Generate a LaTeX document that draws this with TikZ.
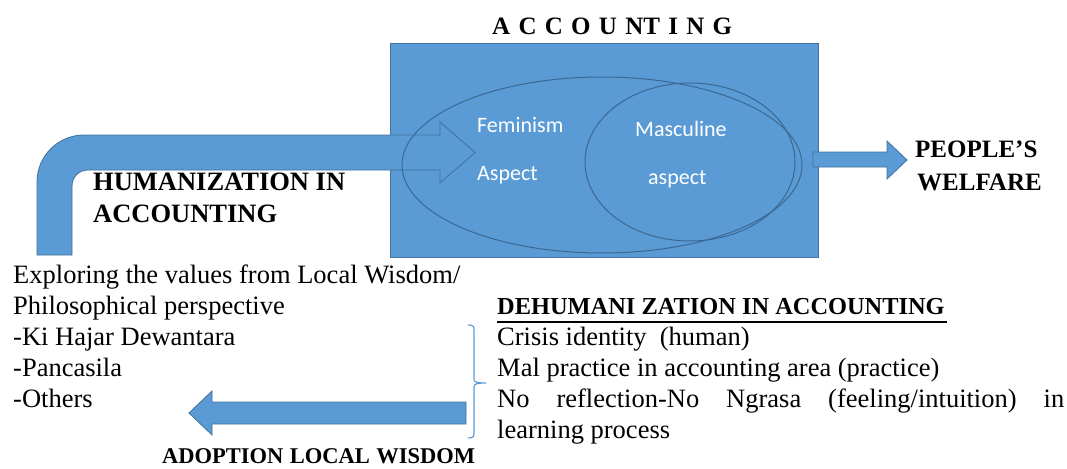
\documentclass[tikz,border=0pt]{standalone}
\usepackage{fontspec}
\setmainfont{Liberation Serif}
\newfontfamily\calib{Carlito}
\usetikzlibrary{calc}
\definecolor{boxblue}{HTML}{5B9BD5}
\definecolor{edgeblue}{HTML}{41719C}
\definecolor{ellblue}{HTML}{3B6790}
\begin{document}
\begin{tikzpicture}[x=1pt,y=-1pt,
  txt/.style={inner sep=0pt, anchor=base west, font=\fontsize{26.5}{31}\selectfont},
  hdr/.style={inner sep=0pt, anchor=base west, font=\fontsize{26.5}{31}\selectfont\bfseries},
  wtxt/.style={inner sep=0pt, anchor=base west, text=white, font=\calib\fontsize{22}{26}\selectfont},
  blockarrow/.style={fill=boxblue, draw=edgeblue, line width=0.8pt, line join=miter},
  ell/.style={draw=ellblue, line width=1pt},
  brace/.style={draw=boxblue, line width=1.2pt}]
\clip (0,0) rectangle (1067,468);
% main box
\filldraw[fill=boxblue, draw=edgeblue, line width=1pt] (390,44) rectangle (818,257);
% curved arrow
\path[blockarrow] (37,255) -- (37,182) .. controls (37,156) and (58,135) .. (84,135)
  -- (440,135) -- (440,122) -- (475,152.5) -- (440,183) -- (440,170) -- (88,170)
  .. controls (79,170) and (72,177) .. (72,186) -- (72,255) -- cycle;
% ellipses
\draw[ell] (602,165) ellipse [x radius=200, y radius=88];
\draw[ell] (690,162) ellipse [x radius=105, y radius=79];
% right arrow
\path[blockarrow] (813,152) -- (887,152) -- (887,141) -- (907,160) -- (887,179) -- (887,167) -- (813,167) -- cycle;
% left arrow
\path[blockarrow] (466,402) -- (212,402) -- (212,391) -- (189,413) -- (212,435) -- (212,424) -- (466,424) -- cycle;
% brace
\draw[brace] (468,325) .. controls (473,325) and (474,326) .. (474,330) -- (474,379)
  .. controls (474,382) and (476,383) .. (486,383)
  .. controls (476,383) and (474,384) .. (474,387) -- (474,433)
  .. controls (474,437) and (473,438) .. (468,438);
% texts
\node[hdr, font=\fontsize{25}{30}\selectfont\bfseries] (title) at (492,35) {\makebox[240pt][s]{A C C O U NT I N G}};
\node[hdr] (hum1) at (93,190) {HUMANIZATION IN};
\node[hdr] (hum2) at (93,222) {ACCOUNTING};
\node[hdr, font=\fontsize{25}{30}\selectfont\bfseries] (peo1) at (915,157) {PEOPLE’S};
\node[hdr, font=\fontsize{25}{30}\selectfont\bfseries] (peo2) at (917,190) {WELFARE};
\node[wtxt] (fem) at (477,132) {Feminism};
\node[wtxt] (asp) at (477,180) {Aspect};
\node[wtxt] (mas) at (635,136) {Masculine};
\node[wtxt] (asp2) at (648,184) {aspect};
\node[txt] (l1) at (13,283) {Exploring the values from Local Wisdom/};
\node[txt] (l2) at (13,314) {Philosophical perspective};
\node[txt] (l3) at (13,345) {-Ki Hajar Dewantara};
\node[txt] (l4) at (13,376) {-Pancasila};
\node[txt] (l5) at (13,407) {-Others};
\node[hdr, font=\fontsize{24.4}{30}\selectfont\bfseries] (dh) at (497,314) {DEHUMANI ZATION IN ACCOUNTING};
\draw[line width=1.5pt] ([yshift=-8pt]dh.base west) -- ([yshift=-8pt,xshift=2pt]dh.base east);
\node[txt] (r1) at (497,345) {Crisis identity\ \ (human)};
\node[txt] (r2) at (497,376) {Mal practice in accounting area (practice)};
\node[txt] (r3) at (497,407) {\makebox[567pt][s]{No reflection-No Ngrasa (feeling/intuition) in}};
\node[txt] (r4) at (497,438) {learning process};
\node[hdr, font=\fontsize{22.5}{27}\selectfont\bfseries] (adopt) at (162,463.5) {\makebox[313pt][s]{ADOPTION LOCAL WISDOM}};
\end{tikzpicture}
\end{document}
